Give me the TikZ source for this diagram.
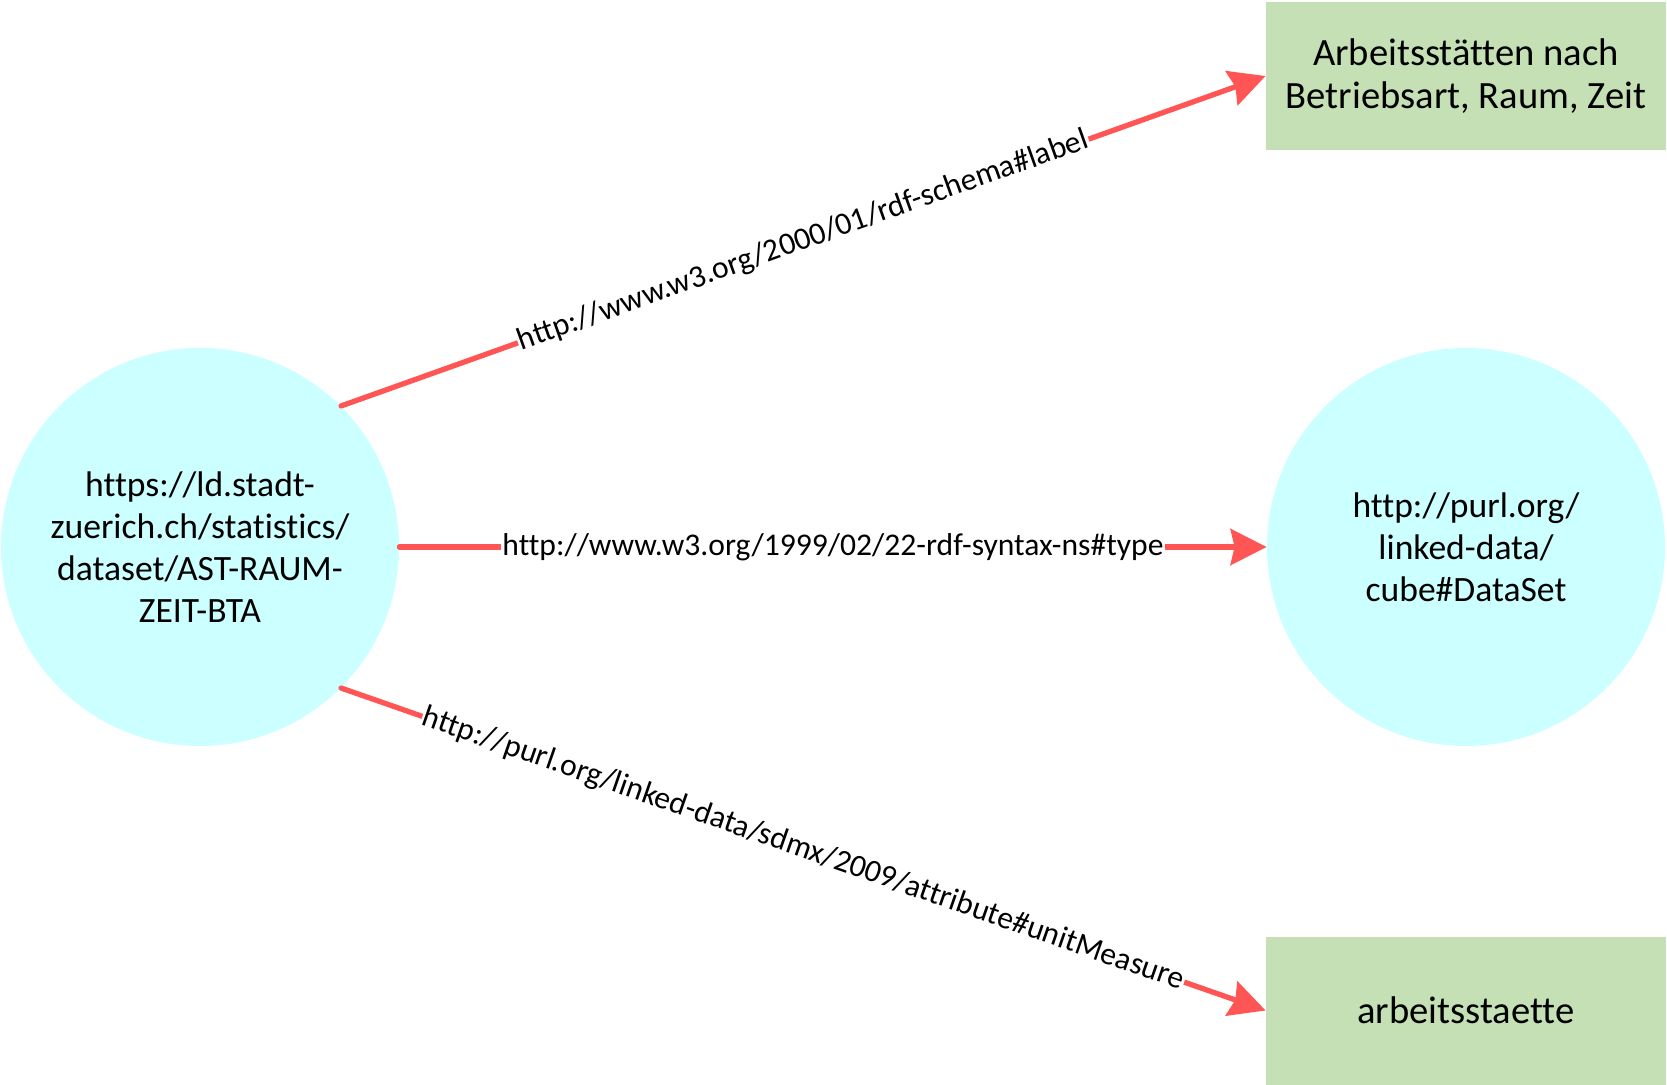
\documentclass[tikz,border=0pt]{standalone}
\usepackage{fontspec}
\setmainfont[Ligatures={NoCommon}]{Carlito}
\usetikzlibrary{arrows.meta}
\definecolor{cyanfill}{RGB}{204,255,255}
\definecolor{greenfill}{RGB}{197,224,180}
\definecolor{edgered}{RGB}{255,85,85}
\begin{document}
\begin{tikzpicture}[x=0.5pt,y=0.5pt,
  res/.style={circle, fill=cyanfill, minimum size=199pt, inner sep=0pt, align=center,
    font=\fontsize{17.8pt}{21.1pt}\selectfont},
  lit/.style={rectangle, fill=greenfill, minimum width=200pt, minimum height=74pt, inner sep=0pt,
    align=center, font=\fontsize{19.3pt}{21.1pt}\selectfont},
  rel/.style={draw=edgered, line width=2.65pt, line cap=round,
    -{Stealth[length=18pt,width=18pt,inset=2pt]}},
  lbl/.style={midway, sloped, fill=white, inner sep=0.5pt,
    font=\fontsize{15.8pt}{18pt}\selectfont}]
\useasboundingbox (0,0) rectangle (1667,-1085);
\node[res] (L) at (200,-547) {https://ld.stadt-\\zuerich.ch/statistics/\\dataset/AST-RAUM-\\ZEIT-BTA};
\node[res] (R) at (1466,-547) {http://purl.org/\\linked-data/\\cube\#DataSet};
\node[lit] (T) at (1466,-76) {Arbeitsstätten nach\\Betriebsart, Raum, Zeit};
\node[lit] (B) at (1466,-1010.5) {arbeitsstaette};
\draw[rel] (L.45) -- node[lbl]{http://www.w3.org/2000/01/rdf-schema\#label} (T.west);
\draw[rel] (L.east) -- node[lbl]{http://www.w3.org/1999/02/22-rdf-syntax-ns\#type} (R.west);
\draw[rel] (L.-45) -- node[lbl]{http://purl.org/linked-data/sdmx/2009/attribute\#unitMeasure} (B.west);
\end{tikzpicture}
\end{document}
